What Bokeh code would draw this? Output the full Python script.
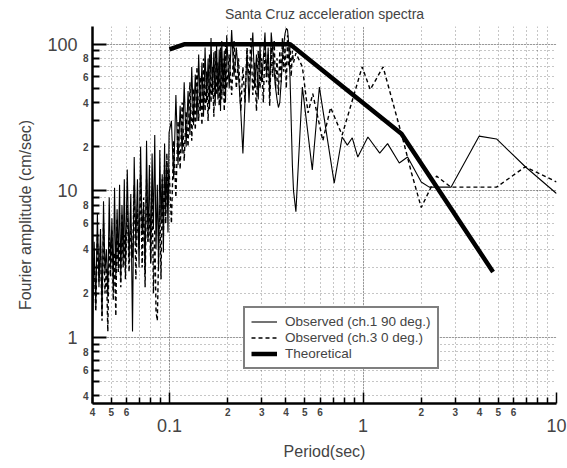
from bokeh.plotting import figure
from bokeh.models import (LogAxis, FixedTicker, Grid, Legend, LegendItem, Range1d,
                          CustomJSTickFormatter)
from bokeh.embed import file_html
from bokeh.resources import INLINE

# ---------------- data ----------------
period_hf = [0.0400,0.0408,0.0416,0.0424,0.0432,0.0440,0.0448,0.0456,0.0464,0.0472,0.0480,0.0488,0.0496,
             0.0504,0.0512,0.0520,0.0528,0.0536,0.0544,0.0552,0.0560,0.0568,0.0576,0.0584,0.0592,
             0.0605,0.0618,0.0631,0.0644,0.0657,0.0670,0.0683,0.0696,0.0709,0.0722,0.0735,0.0748,0.0761,
             0.0774,0.0787,0.0800,0.0813,0.0826,0.0839,0.0852,0.0865,0.0878,0.0891,0.0904,0.0917,0.0930,
             0.0943,0.0956,0.0969,0.0982,0.0995,
             0.1023,0.1051,0.1079,0.1107,0.1135,0.1163,0.1191,0.1219,0.1247,0.1275,0.1303,0.1331,0.1359,
             0.1387,0.1415,0.1443,0.1471,0.1499,0.1527,0.1555,0.1583,0.1611,0.1639,0.1667,0.1695,0.1723,
             0.1751,0.1779,0.1807,0.1835,0.1863,0.1891,0.1919,0.1947,0.1975,
             0.2035,0.2095,0.2155,0.2215,0.2275,0.2335,0.2395,0.2455,0.2515,0.2575,0.2635,0.2695,0.2755,
             0.2815,0.2875,0.2935,0.2995,0.3055,0.3115,0.3175,0.3235,0.3295,0.3355,0.3415,0.3475,0.3535,
             0.3595,0.3655,0.3715,0.3775,0.3835,0.3895,0.3955,0.4015,0.4075,0.4135,0.4195,0.4255,0.4315,0.4375]

ch1_hf = [1.0,4.5,1.6,7.0,2.2,5.5,1.4,8.5,2.8,4.0,1.9,9.0,3.0,6.5,2.1,10.5,2.6,7.5,3.2,11.0,2.4,8.0,3.5,12.0,2.9,
          14.0,3.4,9.5,1.1,17.0,4.2,12.0,3.0,20.0,5.0,8.0,2.7,22.0,4.5,15.0,3.3,18.0,5.5,24.0,4.0,11.0,2.9,
          19.0,6.0,13.0,3.8,21.0,7.0,16.0,5.2,25.0,
          30,12,45,15,38,18,55,20,48,24,70,28,62,30,85,35,75,32,95,40,80,36,110,45,88,38,100,42,92,35,105,48,90,40,115,
          50,125,60,95,60,35,18,40,90,40,75,120,50,85,42,100,55,80,120,60,95,45,120,90,65,50,42,37,40,55,80,100,118,128,
          125,100,60,30,15,10]

ch3_hf = [2.0,3.5,1.5,5.0,2.4,4.2,1.3,6.0,2.0,3.0,1.1,4.8,2.6,5.5,1.8,3.8,1.4,6.5,2.8,4.5,2.2,7.0,3.0,5.0,2.5,
          8.0,2.8,6.0,3.5,11.0,2.5,7.5,4.0,13.0,3.0,9.0,2.2,12.0,4.5,7.0,3.2,10.0,2.0,5.5,1.5,1.3,3.5,8.0,2.5,
          12.0,5.0,15.0,6.0,18.0,8.0,14.0,
          6.0,22,9,30,14,40,16,35,20,55,22,50,26,70,30,60,28,80,35,65,30,85,40,70,32,90,45,75,38,95,42,80,35,100,50,
          85,45,105,50,80,35,70,40,95,55,110,45,75,35,90,50,80,40,100,55,85,38,95,60,105,50,80,45,90,55,110,65,95,50,
          115,70,100,60,90,75]

period_lf_ch1 = [0.45, 0.486, 0.547, 0.595, 0.71, 0.78, 0.83, 0.88, 0.94, 1.06, 1.22, 1.34, 1.54, 1.70,
                 2.0, 2.2, 2.85, 3.98, 4.9, 6.9, 10.0]
ch1_lf = [7.2, 51, 13.9, 51, 11.3, 23.3, 20.5, 23, 17, 23.3, 18.1, 21, 15.5, 17,
          11.5, 10.6, 10.6, 23.6, 22.6, 14.6, 9.6]

period_lf_ch3 = [0.45, 0.486, 0.52, 0.55, 0.62, 0.68, 0.78, 0.99, 1.09, 1.27, 1.6, 1.78, 2.0, 2.2, 2.4,
                 2.85, 4.9, 6.9, 10.0]
ch3_lf = [87, 70, 34, 46, 22, 37, 24, 70, 49, 70, 23, 13.3, 7.7, 10.0, 12.6, 10.6, 10.6, 14.6, 11.5]

period_theory = [0.1, 0.12, 0.42, 1.58, 4.7]
amp_theory = [92, 100, 100, 24.5, 2.8]

x_decades = [0.1, 1, 10]
x_minor = [0.04, 0.05, 0.06, 0.07, 0.08, 0.09, 0.2, 0.3, 0.4, 0.5, 0.6, 0.7, 0.8, 0.9,
           2, 3, 4, 5, 6, 7, 8, 9]
x_minor_labeled = [0.04, 0.05, 0.06, 0.2, 0.3, 0.4, 0.5, 0.6, 2, 3, 4, 5, 6]
y_decades = [1, 10, 100]
y_minor = [0.4, 0.5, 0.6, 0.7, 0.8, 0.9, 2, 3, 4, 5, 6, 7, 8, 9, 20, 30, 40, 50, 60, 70, 80, 90]
y_minor_labeled = [0.4, 0.6, 0.8, 2, 4, 6, 8, 20, 40, 60, 80]

FONT = "Liberation Sans"

ch1_x = period_hf + period_lf_ch1
ch1_y = ch1_hf + ch1_lf
ch3_x = period_hf + period_lf_ch3
ch3_y = ch3_hf + ch3_lf

p = figure(width=567, height=468, x_axis_type="log", y_axis_type="log",
           x_range=Range1d(0.04, 10), y_range=Range1d(0.355, 132),
           x_axis_location=None, y_axis_location=None,
           output_backend="svg", toolbar_location=None,
           title="Santa Cruz acceleration spectra",
           min_border_left=92, min_border_right=11, min_border_top=26, min_border_bottom=65)
p.outline_line_color = None
p.title.align = "center"
p.title.vertical_align = "middle"
p.title.text_font = FONT
p.title.text_font_size = "14px"
p.title.text_font_style = "normal"
p.title.standoff = 7

lead_digit = CustomJSTickFormatter(code="""
    const e = Math.floor(Math.log10(tick) + 1e-9);
    return String(Math.round(tick / Math.pow(10, e)));
""")
decade_fmt = CustomJSTickFormatter(code="return tick < 1 ? tick.toFixed(1) : tick.toFixed(0);")
blank_fmt = CustomJSTickFormatter(code="return '';")

def axes_for(side, decades, minors, labeled, title):
    tick_w = 2 if side == "left" else 1.5
    a = LogAxis(ticker=FixedTicker(ticks=decades, minor_ticks=minors),
                major_tick_in=14 if side == "left" else 11, major_tick_out=0,
                minor_tick_in=7 if side == "left" else 6, minor_tick_out=0,
                axis_line_width=2.5, major_tick_line_width=tick_w, minor_tick_line_width=tick_w,
                major_label_text_font=FONT, major_label_text_font_size="1px",
                major_label_standoff=0, formatter=blank_fmt)
    b = LogAxis(ticker=FixedTicker(ticks=labeled, minor_ticks=[]),
                major_tick_in=0, major_tick_out=0, minor_tick_in=0, minor_tick_out=0,
                axis_line_color=None, major_tick_line_color=None,
                major_label_text_font=FONT, major_label_text_font_size="10px",
                major_label_text_font_style="bold",
                major_label_standoff=4, formatter=lead_digit)
    c = LogAxis(ticker=FixedTicker(ticks=decades, minor_ticks=[]),
                major_tick_in=0, major_tick_out=0, minor_tick_in=0, minor_tick_out=0,
                axis_line_color=None, major_tick_line_color=None,
                major_label_text_font=FONT, major_label_text_font_size="18px",
                major_label_standoff=0 if side == "below" else 2, formatter=decade_fmt,
                axis_label=title, axis_label_text_font=FONT, axis_label_text_font_size="16px",
                axis_label_text_font_style="normal",
                axis_label_standoff=8 if side == "below" else 10)
    for ax in (a, b, c):
        p.add_layout(ax, side)
    return a

xa = axes_for("below", x_decades, x_minor, x_minor_labeled, "Period(sec)")
ya = axes_for("left", y_decades, y_minor, y_minor_labeled, "Fourier amplitude (cm/sec)")

for dim, ax in ((0, xa), (1, ya)):
    g = Grid(dimension=dim, ticker=ax.ticker,
             grid_line_color="black", grid_line_alpha=0.65, grid_line_dash="1 2", grid_line_width=1,
             minor_grid_line_color="black", minor_grid_line_alpha=0.45, minor_grid_line_dash="1 3",
             minor_grid_line_width=1)
    p.add_layout(g, "center")

r1 = p.line(ch1_x, ch1_y, line_color="black", line_width=1.1)
r3 = p.line(ch3_x, ch3_y, line_color="black", line_width=1.4, line_dash="4 3")
rt = p.line(period_theory, amp_theory, line_color="black", line_width=4.5)

legend = Legend(items=[LegendItem(label="Observed (ch.1 90 deg.)", renderers=[r1]),
                       LegendItem(label="Observed (ch.3 0 deg.)", renderers=[r3]),
                       LegendItem(label="Theoretical", renderers=[rt])],
                location=(151, 34), orientation="vertical",
                label_text_font=FONT, label_text_font_size="13.5px",
                label_height=15, glyph_height=15, glyph_width=26, label_standoff=8,
                padding=6, spacing=1, margin=0,
                border_line_color="black", border_line_width=2.5,
                background_fill_color="white", background_fill_alpha=1)
p.add_layout(legend, "center")

open("out.html", "w").write(file_html(p, INLINE))
